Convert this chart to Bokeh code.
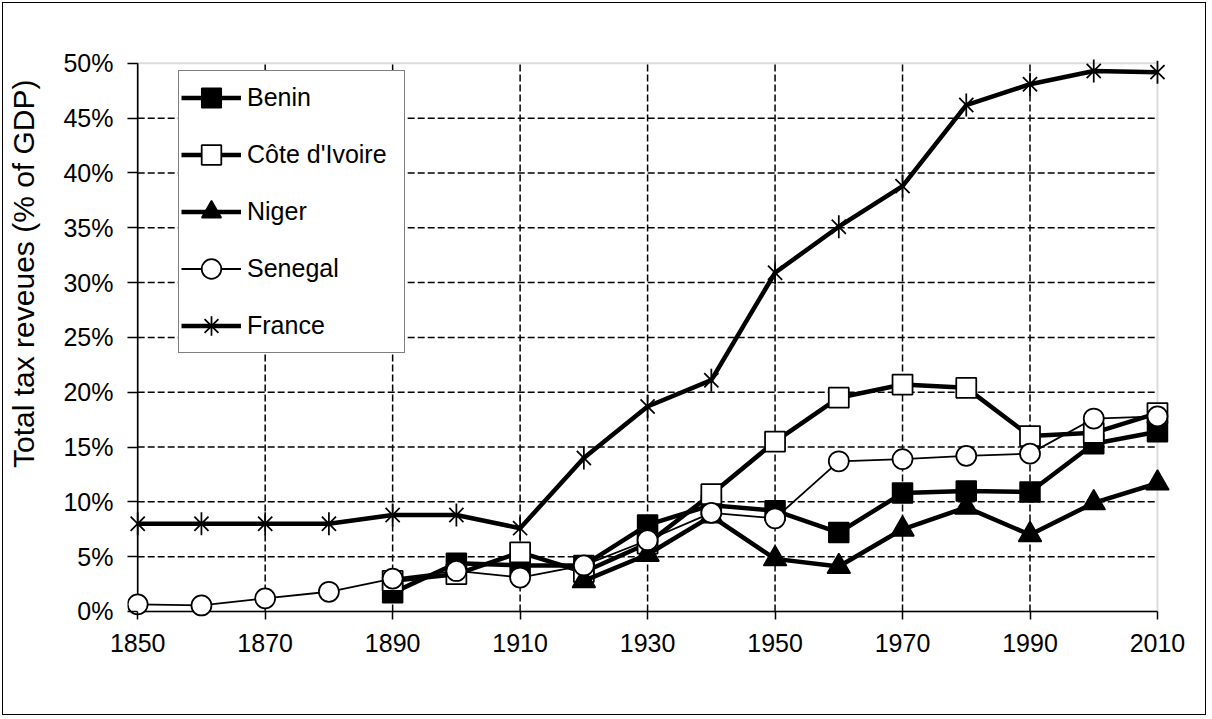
import math
from bokeh.plotting import figure
from bokeh.models import (Range1d, FixedTicker, PrintfTickFormatter, Legend,
                          LegendItem, BoxAnnotation, Title)
from bokeh.embed import file_html
from bokeh.resources import INLINE

# ---------------- data ----------------
years_all = list(range(1850, 2011, 10))
years_from_1890 = list(range(1890, 2011, 10))
years_from_1920 = list(range(1920, 2011, 10))

benin = [1.7, 4.4, 4.2, 4.2, 7.9, 9.7, 9.2, 7.2, 10.8, 11.0, 10.9, 15.3, 16.4]
cote_divoire = [2.8, 3.4, 5.4, 3.6, 6.2, 10.7, 15.5, 19.5, 20.7, 20.4, 16.0, 16.3, 18.1]
niger = [2.8, 5.2, 8.7, 4.8, 4.1, 7.5, 9.5, 7.0, 9.9, 11.7]
senegal = [0.65, 0.55, 1.2, 1.8, 3.0, 3.7, 3.1, 4.2, 6.5, 9.0, 8.5, 13.7, 13.9,
           14.2, 14.4, 17.6, 17.8]
france = [8.0, 8.0, 8.0, 8.0, 8.8, 8.8, 7.6, 14.0, 18.7, 21.1, 30.9, 35.1, 38.8,
          46.2, 48.1, 49.3, 49.2]

x_ticks = list(range(1850, 2011, 20))
y_ticks = list(range(0, 51, 5))
y_title = "Total tax reveues (% of GDP)"

FONT = "Liberation Sans"
FS = "25px"

W, H = 1204, 713
p = figure(width=W, height=H,
           x_range=Range1d(1848.4, 2012.2), y_range=Range1d(-0.73, 50.9),
           output_backend="svg", toolbar_location=None,
           min_border_left=124, min_border_right=36,
           min_border_top=50, min_border_bottom=97)
p.title.visible = False
p.grid.visible = False
p.outline_line_color = None
p.background_fill_color = "white"
p.border_fill_color = "white"
p.styles = {"border": "1px solid black", "margin-left": "2px", "margin-top": "2px"}

# gray plot-area border (top/right visible)
frame_box = BoxAnnotation(left=x_ticks[0], right=x_ticks[-1],
                          bottom=y_ticks[0], top=y_ticks[-1],
                          fill_color=None, fill_alpha=0,
                          line_color="#8c8c8c", line_width=2, level="underlay")
p.add_layout(frame_box)

# dashed gridlines
gx = x_ticks[1:-1]
p.segment(x0=gx, y0=[y_ticks[0]] * len(gx), x1=gx, y1=[y_ticks[-1]] * len(gx),
          line_color="black", line_width=1.5, line_dash="7 3")
gy = y_ticks[1:-1]
p.segment(x0=[x_ticks[0]] * len(gy), y0=gy, x1=[x_ticks[-1]] * len(gy), y1=gy,
          line_color="black", line_width=1.5, line_dash="7 3")

# axis lines (at 1850 and 0%)
p.segment(x0=[x_ticks[0], x_ticks[0]], y0=[y_ticks[0], y_ticks[0]],
          x1=[x_ticks[-1], x_ticks[0]], y1=[y_ticks[0], y_ticks[-1]],
          line_color="black", line_width=1.6)

THICK = 4.5
THIN = 1.8

l_b = p.line(years_from_1890, benin, line_color="black", line_width=THICK)
s_b = p.scatter(years_from_1890, benin, marker="square", size=20,
                fill_color="black", line_color="black", line_width=1.5)

l_c = p.line(years_from_1890, cote_divoire, line_color="black", line_width=THICK)
s_c = p.scatter(years_from_1890, cote_divoire, marker="square", size=20,
                fill_color="white", line_color="black", line_width=1.75)

l_n = p.line(years_from_1920, niger, line_color="black", line_width=THICK)
s_n = p.scatter(years_from_1920, niger, marker="triangle", size=23,
                fill_color="black", line_color="black", line_width=1.5)

l_s = p.line(years_all, senegal, line_color="black", line_width=THIN)
s_s = p.scatter(years_all, senegal, marker="circle", size=20,
                fill_color="white", line_color="black", line_width=1.75)

l_f = p.line(years_all, france, line_color="black", line_width=THICK)
s_fx = p.scatter(years_all, france, marker="x", size=20,
                 line_color="black", line_width=1.75)
s_fv = p.scatter(years_all, france, marker="dash", size=23, angle=math.pi / 2,
                 line_color="black", line_width=1.75)
# zero-size cross: invisible on the plot, gives the vertical stroke in the legend
s_fl = p.scatter(years_all, france, marker="cross", size=0,
                 line_color="black", line_width=1.75)

# axes: only ticks (inward from frame edge up to the axis line) and labels
for ax in (p.xaxis[0], p.yaxis[0]):
    ax.axis_line_color = None
    ax.major_tick_line_color = "black"
    ax.major_tick_line_width = 1.5
    ax.major_tick_out = 0
    ax.minor_tick_line_color = None
    ax.major_label_text_font = FONT
    ax.major_label_text_font_size = FS
    ax.major_label_text_color = "black"
    ax.major_label_text_font_style = "normal"

p.xaxis[0].ticker = FixedTicker(ticks=x_ticks)
p.xaxis[0].major_tick_in = 8
p.xaxis[0].major_label_standoff = 14

p.yaxis[0].ticker = FixedTicker(ticks=y_ticks)
p.yaxis[0].formatter = PrintfTickFormatter(format="%d%%")
p.yaxis[0].major_tick_in = 10
p.yaxis[0].major_label_standoff = 14
# blank axis label: only reserves a little room between tick labels and title
p.yaxis[0].axis_label = " "
p.yaxis[0].axis_label_text_font_size = "10px"
p.yaxis[0].axis_label_standoff = 1

# y-axis title
p.add_layout(Title(text=y_title, align="right", offset=26, standoff=7,
                   vertical_align="top", text_font=FONT,
                   text_font_size="30px", text_font_style="normal",
                   text_color="black"), "left")

legend = Legend(items=[
    LegendItem(label="Benin", renderers=[l_b, s_b]),
    LegendItem(label="Côte d'Ivoire", renderers=[l_c, s_c]),
    LegendItem(label="Niger", renderers=[l_n, s_n]),
    LegendItem(label="Senegal", renderers=[l_s, s_s]),
    LegendItem(label="France", renderers=[l_f, s_fx, s_fl]),
], location=(51, 266))
legend.glyph_width = 60
legend.glyph_height = 49
legend.spacing = 8
legend.padding = 2
legend.margin = 0
legend.label_standoff = 6
legend.label_width = 155
legend.label_text_font = FONT
legend.label_text_font_size = FS
legend.label_text_color = "black"
legend.border_line_color = "black"
legend.border_line_width = 1.5
legend.background_fill_color = "white"
legend.background_fill_alpha = 1
p.add_layout(legend)

open("out.html", "w").write(file_html(p, INLINE))
